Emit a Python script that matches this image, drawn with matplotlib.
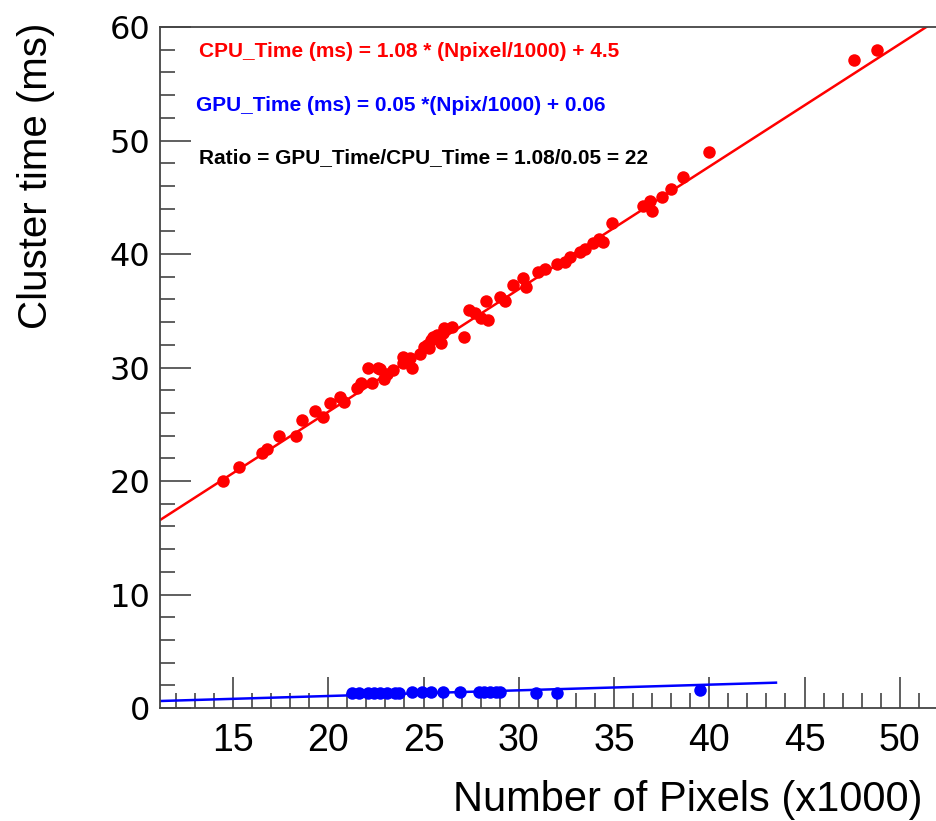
import numpy as np
import matplotlib.pyplot as plt
from matplotlib.ticker import MultipleLocator

# CPU cluster time vs number of pixels (x1000)
cpu_x = [14.5, 15.3, 16.5, 16.8, 17.4, 18.3, 18.6, 19.3, 19.7, 20.1, 20.6, 20.8,
         21.5, 21.7, 22.1, 22.6, 22.3, 22.7, 22.9, 23.1, 23.4, 23.9, 23.9, 24.3,
         24.4, 24.8, 25.0, 25.2, 25.3, 25.4, 25.5, 25.7, 25.8, 25.9, 26.0, 26.1,
         26.5, 27.1, 27.4, 27.7, 28.0, 28.4, 28.3, 29.0, 29.3, 29.7, 30.2, 30.4,
         31.0, 31.4, 32.0, 32.4, 32.7, 33.2, 33.5, 33.9, 34.2, 34.4, 34.9, 36.5,
         36.9, 37.0, 37.5, 38.0, 38.6, 40.0, 47.6, 48.8]
cpu_y = [20.0, 21.2, 22.5, 22.8, 24.0, 24.0, 25.4, 26.2, 25.6, 26.9, 27.4, 27.0,
         28.2, 28.6, 30.0, 30.0, 28.6, 29.9, 29.0, 29.4, 29.8, 30.4, 30.9, 30.8,
         30.0, 31.2, 31.8, 32.0, 31.7, 32.4, 32.7, 32.9, 32.5, 32.2, 33.0, 33.5,
         33.6, 32.7, 35.1, 34.8, 34.4, 34.2, 35.9, 36.2, 35.9, 37.3, 37.9, 37.1,
         38.4, 38.7, 39.1, 39.3, 39.7, 40.2, 40.4, 41.0, 41.3, 41.1, 42.7, 44.2,
         44.7, 43.8, 45.0, 45.7, 46.8, 49.0, 57.1, 58.0]

# GPU cluster time
gpu_x = [21.25, 21.6, 22.1, 22.4, 22.7, 23.1, 23.5, 23.7, 24.4, 24.9, 25.4,
         26.0, 26.9, 27.9, 28.2, 28.5, 28.8, 29.0, 30.9, 32.0, 39.5]
gpu_y = [1.35, 1.35, 1.35, 1.35, 1.35, 1.35, 1.35, 1.35, 1.4, 1.4, 1.4,
         1.4, 1.4, 1.4, 1.4, 1.4, 1.4, 1.4, 1.35, 1.35, 1.55]

# fit results
cpu_slope, cpu_off = 1.08, 4.5
gpu_slope, gpu_off = 0.05, 0.06

fig = plt.figure(figsize=(9.36, 8.21), dpi=100)
ax = fig.add_axes([0.171, 0.1376, 0.829, 0.8295])

xlo, xhi = 11.17, 51.9
ax.set_xlim(xlo, xhi)
ax.set_ylim(0, 60)

# fit lines
xf = np.linspace(10, 60, 200)
ax.plot(xf, cpu_slope * xf + cpu_off, color='red', lw=1.8, zorder=2)
xg = np.linspace(10, 43.5, 100)
ax.plot(xg, gpu_slope * xg + gpu_off, color='blue', lw=1.8, zorder=2)

# data points
ax.plot(cpu_x, cpu_y, 'o', color='red', ms=9, mec='none', zorder=3)
ax.plot(gpu_x, gpu_y, 'o', color='blue', ms=9, mec='none', zorder=3)

# fit annotations
ax.text(13.2, 57.8, 'CPU_Time (ms) = 1.08 * (Npixel/1000) + 4.5', color='red',
        fontsize=15, fontweight='bold', family='Liberation Sans', va='center')
ax.text(13.05, 53.1, 'GPU_Time (ms) = 0.05 *(Npix/1000) + 0.06', color='blue',
        fontsize=15, fontweight='bold', family='Liberation Sans', va='center')
ax.text(13.2, 48.5, 'Ratio = GPU_Time/CPU_Time = 1.08/0.05 = 22', color='black',
        fontsize=15, fontweight='bold', family='Liberation Sans', va='center')

# ROOT-like axes
for s in ['left', 'bottom', 'top']:
    ax.spines[s].set_color('#444444')
    ax.spines[s].set_linewidth(1.3)
ax.spines['right'].set_visible(False)

ax.xaxis.set_major_locator(MultipleLocator(5))
ax.xaxis.set_minor_locator(MultipleLocator(1))
ax.yaxis.set_major_locator(MultipleLocator(10))
ax.yaxis.set_minor_locator(MultipleLocator(2))
ax.tick_params(which='major', direction='in', length=22, width=1.2, color='#444444')
ax.tick_params(which='minor', direction='in', length=11, width=1.2, color='#444444')
ax.tick_params(axis='x', pad=11)
ax.tick_params(axis='y', pad=7)
for lab in ax.get_xticklabels():
    lab.set_family('Liberation Sans')
    lab.set_fontsize(27)
for lab in ax.get_yticklabels():
    lab.set_family('DejaVu Sans')
    lab.set_fontsize(23)

ax.set_xlabel('Number of Pixels (x1000)', fontsize=30, family='Liberation Sans',
              loc='right')
ax.xaxis.set_label_coords(0.982, -0.105)
ax.set_ylabel('Cluster time (ms)', fontsize=29, family='Liberation Sans', loc='top')
ax.yaxis.set_label_coords(-0.136, 1.007)

fig.savefig('out.png', dpi=100)
